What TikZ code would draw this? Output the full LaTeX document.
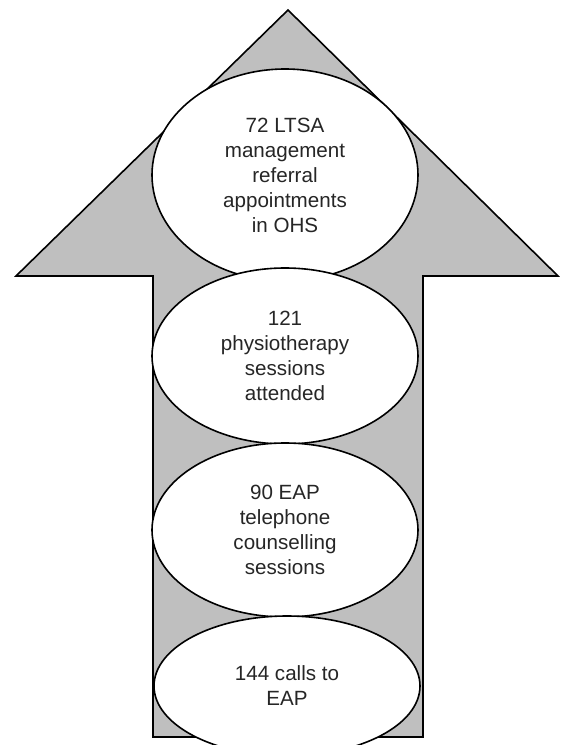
\documentclass[tikz,border=0pt]{standalone}
\usepackage{fontspec}
\setmainfont{Liberation Sans}
\usetikzlibrary{shapes.geometric}

\begin{document}
\begin{tikzpicture}[x=0.5pt, y=-0.5pt, font=\fontsize{10.3}{12.5}\selectfont,
  bubble/.style={ellipse, draw, line width=0.8pt, fill=white, inner sep=0pt,
    minimum width=133pt, align=center, text=black!85}]
  \useasboundingbox (0,0) rectangle (570,745);
  \clip (0,0) rectangle (570,745);
  % big arrow behind the bubbles
  \draw[line width=0.8pt, fill=black!25] (288,10) -- (558,276) -- (423,276) -- (423,737)
    -- (153,737) -- (153,276) -- (16,276) -- cycle;
  \node[bubble, minimum height=106pt] (ohs) at (285,175) {72 LTSA\\management\\referral\\appointments\\in OHS};
  \node[bubble, minimum height=88pt] (physio) at (285,356) {121\\physiotherapy\\sessions\\attended};
  \node[bubble, minimum height=87pt] (phone) at (285,530) {90 EAP\\telephone\\counselling\\sessions};
  \node[bubble, minimum height=70pt] (calls) at (287,686) {144 calls to\\EAP};
\end{tikzpicture}
\end{document}
